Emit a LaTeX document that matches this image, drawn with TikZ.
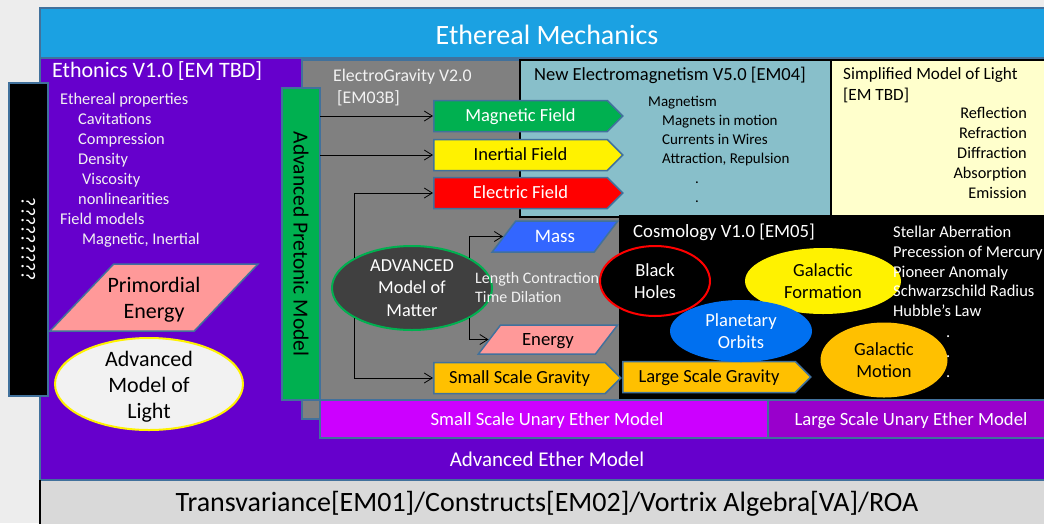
\documentclass[tikz,border=0pt]{standalone}
\usepackage{fontspec}
\setmainfont{Carlito}
\usetikzlibrary{shapes.geometric,shapes.symbols,arrows.meta}
\definecolor{bgc}{HTML}{EDEDED}
\definecolor{topblue}{HTML}{1BA1E2}
\definecolor{ethpurple}{HTML}{6600CC}
\definecolor{egray}{HTML}{808080}
\definecolor{pgreen}{HTML}{00B050}
\definecolor{ltblue}{HTML}{88BFCA}
\definecolor{ltyellow}{HTML}{FFFFCC}
\definecolor{pmagenta}{HTML}{CC00FF}
\definecolor{pviolet}{HTML}{9900CC}
\definecolor{botgray}{HTML}{D9D9D9}
\definecolor{salmon}{HTML}{FF9999}
\definecolor{massblue}{HTML}{3366FF}
\definecolor{orbitblue}{HTML}{0070F0}
\definecolor{porange}{HTML}{FFC000}
\definecolor{edgec}{HTML}{41719C}
\definecolor{mattergray}{HTML}{404040}
\definecolor{txtw}{HTML}{F2F2F2}
\definecolor{lightell}{HTML}{F2F2F2}
\newcommand\fsz[2]{\fontsize{#1}{#2}\selectfont}
\begin{document}
\begin{tikzpicture}[x=1pt,y=-1pt,
  region/.style={draw=edgec, line width=1.5pt, inner sep=0pt, outer sep=0pt, anchor=north west},
  lbl/.style={inner sep=0pt, anchor=base west},
  rlbl/.style={inner sep=0pt, anchor=base east},
  blbl/.style={inner sep=0pt, anchor=base},
  ctxt/.style={inner sep=0pt, align=center},
  arr/.style={draw=black, line width=0.8pt, -{Straight Barb[length=8pt,width=10pt]}},
  sig/.style={signal, signal to=east, signal pointer angle=90, draw=edgec, line width=1.5pt,
    minimum height=31pt, inner sep=0pt, text height=15pt, text depth=3.6pt, anchor=west, font=\fsz{18.5}{22}},
  par/.style={trapezium, trapezium stretches=true, draw=edgec, line width=1.5pt, inner sep=0pt},
  ell/.style={ellipse, line width=2pt, inner sep=0pt},
]
\useasboundingbox (0,0) rectangle (1044,523);
\fill[bgc] (0,0) rectangle (1044,523);

% main regions
\node[region, fill=topblue, minimum width=1012pt, minimum height=50pt] (top) at (40,8) {};
\node[ctxt, text=white, font=\fsz{28}{34}] (topT) at (547,35) {Ethereal Mechanics};
\node[region, fill=ethpurple, minimum width=1012pt, minimum height=422pt] (ether) at (40,58) {};
\node[ctxt, text=white, font=\fsz{21}{25}] (etherT) at (547,459) {Advanced Ether Model};
\node[region, fill=botgray, minimum width=1012pt, minimum height=50pt] (base) at (40,480) {};
\draw[black, line width=1.5pt] (base.north west) -- (base.south west);
\node[blbl, text=black, font=\fsz{28}{34}] (baseT) at (547,511.5) {Transvariance[EM01]/Constructs[EM02]/Vortrix Algebra[VA]/ROA};

\node[region, fill=black, minimum width=39pt, minimum height=313pt] (qbox) at (9,83) {};
\node[ctxt, rotate=-90, text=white, font=\fsz{20}{24}] (qT) at (qbox.center) {?????????};

\node[region, fill=egray, minimum width=318pt, minimum height=359pt] (eg) at (302,60) {};
\node[region, draw=black, fill=ltblue, minimum width=311pt, minimum height=157pt] (nem) at (520,60) {};
\node[region, draw=black, fill=ltyellow, minimum width=220pt, minimum height=157pt] (sml) at (831,60) {};
\node[region, draw=black, fill=black, minimum width=430pt, minimum height=184pt] (cos) at (620,216) {};
\node[region, fill=pgreen, minimum width=38pt, minimum height=312pt] (pret) at (282,88) {};
\node[ctxt, rotate=-90, text=black, font=\fsz{21.5}{26}] (pretT) at (pret.center) {Advanced Pretonic Model};
\node[region, fill=pmagenta, minimum width=448pt, minimum height=38pt] (ss) at (320,400) {};
\node[blbl, text=white, font=\fsz{18.7}{22}] (ssT) at (547,425) {Small Scale Unary Ether Model};
\node[region, fill=pviolet, minimum width=282pt, minimum height=38pt] (ls) at (768,400) {};
\node[blbl, text=white, font=\fsz{18.7}{22}] (lsT) at (911,425) {Large Scale Unary Ether Model};

% Ethonics
\node[lbl, text=white, font=\fsz{22}{26}] (ethT) at (52,77) {Ethonics V1.0 [EM TBD]};
\foreach \t/\x/\y [count=\i] in {Ethereal properties/60/104.5, Cavitations/78/124.5, Compression/78/144.5,
  Density/78/164.5, Viscosity/82/184.5, nonlinearities/78/204.5, Field models/60/224.5, Magnetic{,} Inertial/82/244.5}
  \node[lbl, text=txtw, font=\fsz{16.4}{20}] (eth\i) at (\x,\y) {\t};
\node[par, fill=salmon, trapezium left angle=59, trapezium right angle=121,
  minimum width=208pt, minimum height=67pt] (prim) at (154,297.5) {\phantom{E}};
\node[ctxt, font=\fsz{22}{26}] (primT) at ([yshift=-2pt]prim.center) {Primordial\\Energy};
\node[ell, draw=yellow, fill=lightell, minimum width=188pt, minimum height=92pt] (aml) at (149,384) {};
\node[ctxt, font=\fsz{22}{26}] (amlT) at ([yshift=-2.5pt]aml.center) {Advanced\\Model of\\Light};

% ElectroGravity
\node[lbl, text=txtw, font=\fsz{17.8}{21}] (egT1) at (333,81) {ElectroGravity V2.0};
\node[lbl, text=txtw, font=\fsz{17.8}{21}] (egT2) at (337,103) {[EM03B]};
\node[sig, fill=pgreen, text=white, minimum width=189pt] (mag) at (433,116) {Magnetic Field};
\node[sig, fill=yellow, text=black, minimum width=189pt] (inert) at (433,155) {Inertial Field};
\node[sig, fill=red, text=white, minimum width=189pt] (elec) at (433,193) {Electric Field};
\node[par, fill=massblue, trapezium left angle=57, trapezium right angle=123, text height=15pt, text depth=3.6pt,
  minimum width=126pt, minimum height=31pt, text=white, font=\fsz{19}{22}] (mass) at (555,236.5) {Mass};
\node[par, fill=salmon, trapezium left angle=57, trapezium right angle=123, text height=15pt, text depth=3.6pt,
  minimum width=140pt, minimum height=29pt, text=black, font=\fsz{18.7}{22}] (energy) at (548,339.5) {Energy};
\node[ell, draw=pgreen, fill=mattergray, minimum width=160pt, minimum height=84pt] (matter) at (412,288) {};
\node[ctxt, text=white, font=\fsz{18.3}{22.5}] (matterT) at (matter.center) {ADVANCED\\Model of\\Matter};
\node[lbl, text=txtw, font=\fsz{16}{19}] (lc) at (475,283) {Length Contraction};
\node[lbl, text=txtw, font=\fsz{16}{19}] (td) at (475,302) {Time Dilation};
\node[sig, fill=porange, text=black, minimum width=187pt] (ssg) at (433,378) {Small Scale Gravity};
\node[sig, fill=porange, text=black, minimum width=188pt] (lsg) at (622,377) {Large Scale Gravity};

% New Electromagnetism
\node[lbl, text=black, font=\fsz{18.5}{22}] (nemT) at (534,80) {New Electromagnetism V5.0 [EM04]};
\foreach \t/\x/\y [count=\i] in {Magnetism/648/106, Magnets in motion/662/125, Currents in Wires/662/144,
  Attraction{,} Repulsion/662/163, ./695/183, ./695/202}
  \node[lbl, text=black, font=\fsz{15}{19}] (nem\i) at (\x,\y) {\t};

% Simplified Model of Light
\node[lbl, text=black, font=\fsz{17.2}{21}] (smlT1) at (843,79) {Simplified Model of Light};
\node[lbl, text=black, font=\fsz{17.2}{21}] (smlT2) at (843,100) {[EM TBD]};
\foreach \t/\y [count=\i] in {Reflection/118, Refraction/138, Diffraction/158, Absorption/178, Emission/198}
  \node[rlbl, text=black, font=\fsz{16.3}{20}] (sml\i) at (1027,\y) {\t};

% Cosmology
\node[lbl, text=white, font=\fsz{18.7}{22}] (cosT) at (633,237) {Cosmology V1.0 [EM05]};
\node[ell, draw=red, fill=black, minimum width=110pt, minimum height=70pt] (bh) at (655,281) {};
\node[ctxt, text=white, font=\fsz{18.5}{22}] (bhT) at (bh.center) {Black\\Holes};
\node[ell, draw=none, fill=yellow, minimum width=156pt, minimum height=66pt] (gf) at (823,281) {};
\node[ctxt, text=black, font=\fsz{18.5}{22}] (gfT) at (gf.center) {Galactic\\Formation};
\node[ell, draw=none, fill=orbitblue, minimum width=142pt, minimum height=62pt] (po) at (741,331) {};
\node[ctxt, text=white, font=\fsz{18.5}{22}] (poT) at (po.center) {Planetary\\Orbits};
\node[ell, draw=none, fill=porange, minimum width=127pt, minimum height=75pt] (gm) at (884,360) {};
\node[ctxt, text=black, font=\fsz{18.5}{22}] (gmT) at (gm.center) {Galactic\\Motion};
\foreach \t/\x/\y [count=\i] in {Stellar Aberration/893/237, Precession of Mercury/893/257, Pioneer Anomaly/893/277,
  Schwarzschild Radius/893/296, Hubble’s Law/893/316, ./946/337, ./946/357, ./946/377}
  \node[lbl, text=white, font=\fsz{16.5}{20}] (cl\i) at (\x,\y) {\t};

% connectors
\draw[arr] (pret.east |- mag.west) -- (mag.west);
\draw[arr] (pret.east |- inert.west) -- (inert.west);
\draw[arr] (matter.152) |- (elec.west);
\draw[arr] (matter.208) |- (ssg.west);
\draw[arr] (matter.28) |- (mass.left side);
\draw[arr] (matter.-28) |- (energy.left side);
\end{tikzpicture}
\end{document}
